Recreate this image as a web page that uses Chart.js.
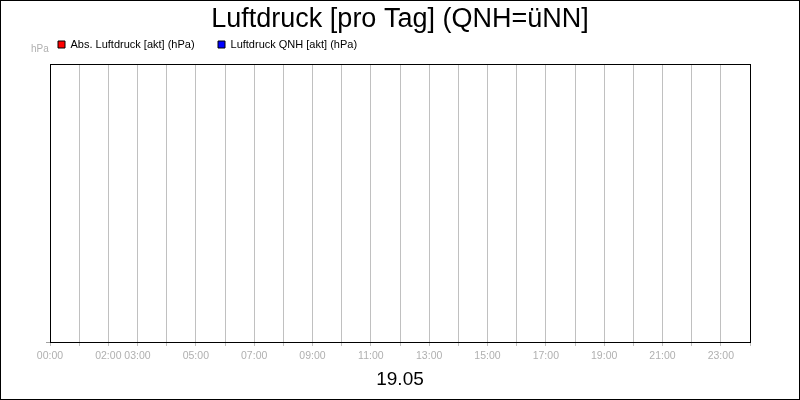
<!DOCTYPE html>
<html>
<head>
<meta charset="utf-8">
<script src="https://cdn.jsdelivr.net/npm/chart.js@4/dist/chart.umd.min.js"></script>
<style>
  html, body { margin: 0; padding: 0; background: #fff; }
  #wrap { width: 800px; height: 400px; }
</style>
</head>
<body>
<div id="wrap"><canvas id="c" width="800" height="400"></canvas></div>
<script>
// ---- data ----
const titleText = 'Luftdruck [pro Tag] (QNH=üNN]';
const dateLabel = '19.05';
const unitLabel = 'hPa';
const seriesNames = ['Abs. Luftdruck [akt] (hPa)', 'Luftdruck QNH [akt] (hPa)'];
const seriesColors = ['#ff0000', '#0000ff'];
const hours = [0,1,2,3,4,5,6,7,8,9,10,11,12,13,14,15,16,17,18,19,20,21,22,23,24];
const tickLabels = ['00:00','','02:00','03:00','','05:00','','07:00','','09:00','','11:00','',
                    '13:00','','15:00','','17:00','','19:00','','21:00','','23:00',''];
const absPressure = [];   // no values recorded in the picture
const qnhPressure = [];   // no values recorded in the picture

Chart.defaults.font.family = "'Liberation Sans', Arial, sans-serif";

const framePlugin = {
  id: 'frame',
  afterDraw(chart) {
    const ctx = chart.ctx;
    const a = chart.chartArea;
    ctx.save();
    ctx.strokeStyle = '#000';
    ctx.lineWidth = 1;
    ctx.strokeRect(Math.round(a.left) + 0.5, Math.round(a.top) + 0.5,
                   Math.round(a.right - a.left), Math.round(a.bottom - a.top));
    ctx.strokeRect(0.5, 0.5, chart.width - 1, chart.height - 1);
    ctx.fillStyle = '#b0b0b0';
    ctx.font = "10px 'Liberation Sans', Arial, sans-serif";
    ctx.textBaseline = 'middle';
    ctx.textAlign = 'left';
    ctx.fillText(unitLabel, 31, 49.5);
    ctx.restore();
  }
};

new Chart(document.getElementById('c'), {
  type: 'line',
  data: {
    datasets: [
      { label: seriesNames[0], data: absPressure, borderColor: seriesColors[0], backgroundColor: seriesColors[0], borderWidth: 1 },
      { label: seriesNames[1], data: qnhPressure, borderColor: seriesColors[1], backgroundColor: seriesColors[1], borderWidth: 1 }
    ]
  },
  options: {
    responsive: false,
    animation: false,
    devicePixelRatio: 1,
    layout: { padding: { left: 34.6, right: 50, top: 0, bottom: 0 } },
    plugins: {
      title: {
        display: true,
        text: titleText,
        fullSize: false,
        color: '#000',
        font: { size: 27, weight: 'normal', lineHeight: 1 },
        padding: { top: 6, bottom: -17.4 }
      },
      legend: {
        display: true,
        align: 'start',
        labels: {
          boxWidth: 7,
          boxHeight: 7,
          padding: 23.4,
          color: '#000',
          font: { size: 11 },
          generateLabels(chart) {
            return chart.data.datasets.map((ds, i) => ({
              text: ds.label,
              fillStyle: ds.backgroundColor,
              strokeStyle: '#000',
              lineWidth: 1,
              hidden: false,
              datasetIndex: i
            }));
          }
        }
      },
      tooltip: { enabled: false }
    },
    scales: {
      x: {
        type: 'linear',
        position: 'bottom',
        min: hours[0],
        max: hours[hours.length - 1],
        afterBuildTicks(scale) { scale.ticks = hours.map(h => ({ value: h })); },
        ticks: {
          autoSkip: false,
          maxRotation: 0,
          color: '#b0b0b0',
          font: { size: 10.5 },
          padding: 3.5,
          callback: (v) => tickLabels[hours.indexOf(v)]
        },
        grid: { color: '#c0c0c0', lineWidth: 1, tickLength: 4, tickColor: '#c0c0c0' },
        border: { display: true, color: '#000' },
        title: { display: true, text: dateLabel, color: '#000', font: { size: 19 }, padding: { top: 0, bottom: 8.6 } },
        afterFit(scale) { scale.height = 58; }
      },
      xTop: {
        type: 'linear',
        position: 'top',
        display: true,
        grid: { display: false },
        ticks: { display: false },
        border: { display: false },
        afterFit(scale) { scale.height = 4; }
      },
      y: {
        type: 'linear',
        min: 0,
        max: 1,
        ticks: { display: false },
        grid: {
          drawOnChartArea: false,
          drawTicks: true,
          tickLength: 4,
          color: (c) => (c.tick && c.tick.value === 0 ? '#a0a0a0' : 'rgba(0,0,0,0)')
        },
        border: { display: true, color: '#000' },
        afterFit(scale) { scale.width = 15.4; }
      }
    }
  },
  plugins: [framePlugin]
});
</script>
</body>
</html>
